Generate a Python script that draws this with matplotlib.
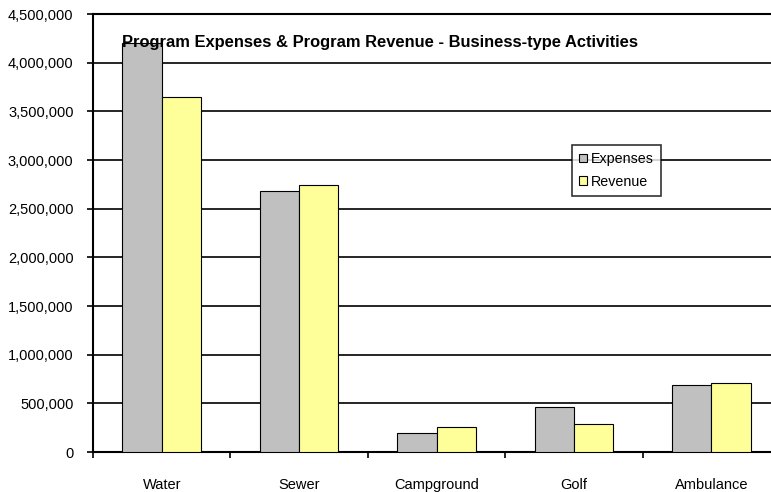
import matplotlib
matplotlib.use("Agg")
import matplotlib.pyplot as plt
import numpy as np

categories = ["Water", "Sewer", "Campground", "Golf", "Ambulance"]
expenses = [4200000, 2680000, 200000, 466000, 690000]
revenue = [3650000, 2740000, 260000, 288000, 710000]
yticks = list(range(0, 4500001, 500000))

plt.rcParams["font.family"] = ["Liberation Sans", "DejaVu Sans"]

W, H = 771, 492
fig = plt.figure(figsize=(W / 100, H / 100), dpi=100)
# plot area runs past the right edge of the picture, as in the original
ax = fig.add_axes([93 / W, (H - 452) / H, 687 / W, 438 / H])

x = np.arange(len(categories))
bw = 1 / 3.5
ax.bar(x - bw / 2, expenses, bw, color="#C0C0C0", edgecolor="black", linewidth=0.8,
       label="Expenses", zorder=3)
ax.bar(x + bw / 2, revenue, bw, color="#FFFF99", edgecolor="black", linewidth=0.8,
       label="Revenue", zorder=3)

ax.set_xlim(-0.5, len(categories) - 0.5)
ax.set_ylim(0, 4500000)
ax.set_yticks(yticks)
ax.set_yticklabels([f"{v:,}" for v in yticks])
ax.yaxis.grid(True, color="black", linewidth=1.2, zorder=0)

# category ticks sit at the boundaries, labels centred below
ax.set_xticks(np.arange(len(categories) + 1) - 0.5)
ax.set_xticklabels([])
ax.set_xticks(x, minor=True)
ax.set_xticklabels(categories, minor=True)
ax.tick_params(axis="x", which="major", length=4, width=1.2, direction="out")
ax.tick_params(axis="x", which="minor", length=0, pad=19, labelsize=10.5)
ax.tick_params(axis="y", length=4, width=1.2, pad=10, labelsize=10.5)

for s in ["left", "bottom", "top"]:
    ax.spines[s].set_linewidth(1.5)
ax.spines["right"].set_visible(False)

ax.text((122 - 93) / 687, 1 - 28 / 438, "Program Expenses & Program Revenue - Business-type Activities",
        transform=ax.transAxes, fontsize=11.9, fontweight="bold", va="center", ha="left", zorder=5)

leg = fig.legend(loc="upper left", bbox_to_anchor=(572 / W, 1 - 145 / H), borderaxespad=0,
                 fontsize=10.3, frameon=True, fancybox=False, edgecolor="black",
                 handlelength=0.55, handleheight=0.55, handletextpad=0.3,
                 labelspacing=0.6, borderpad=0.5)
leg.get_frame().set_linewidth(1.2)

fig.savefig("out.png", dpi=100)
